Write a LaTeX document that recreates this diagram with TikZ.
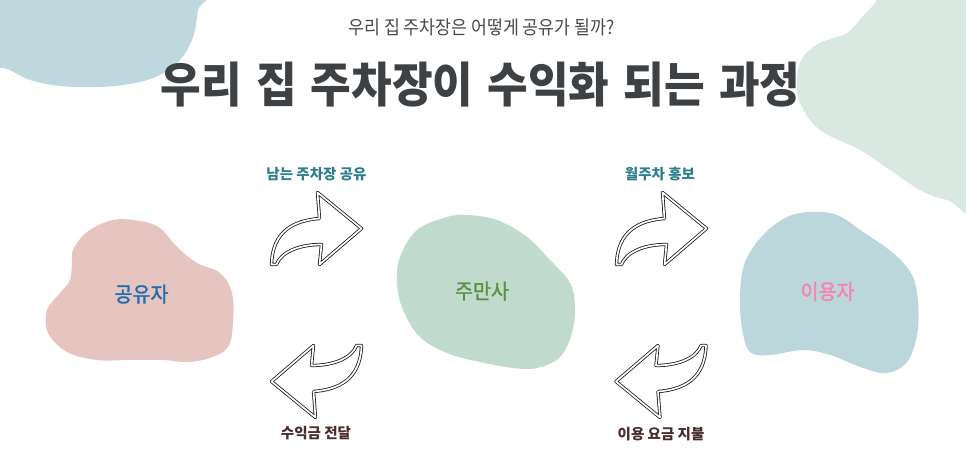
\documentclass[tikz,border=0pt]{standalone}
\usepackage{fontspec}
\setmainfont{Noto Sans CJK KR}
\newfontfamily\krtitle[FakeStretch=0.92,WordSpace=1.4]{Noto Sans CJK KR}
\newfontfamily\krsub[FakeStretch=0.91]{Noto Sans CJK KR}
\newfontfamily\krnode[FakeStretch=0.93,FakeBold=1.5]{Noto Sans CJK KR}
\newfontfamily\krlab{Noto Sans CJK KR}
\definecolor{blobpink}{HTML}{E6C4BF}
\definecolor{blobgreen}{HTML}{C1DACE}
\definecolor{blobblue}{HTML}{BCD7DC}
\definecolor{cornerblue}{HTML}{BED8DD}
\definecolor{cornergreen}{HTML}{DAE8E2}
\definecolor{titlegray}{HTML}{3D4144}
\definecolor{subgray}{HTML}{4A4A4A}
\definecolor{ownerblue}{HTML}{1F6FAD}
\definecolor{jugreen}{HTML}{5B9140}
\definecolor{userpink}{HTML}{F585B0}
\definecolor{labteal}{HTML}{2B7E8C}
\definecolor{labbrown}{HTML}{4B2C2C}
\tikzset{
  arrowline/.style={draw=black!90, line width=0.8pt, double=white, double distance=1.7pt, line join=round},
  curvyarrow/.pic={
    \draw[arrowline] (45,0) -- (1,-36) -- (3,-10)
      .. controls (-22,-8) and (-44,2) .. (-45,36) -- (-40,36)
      .. controls (-36,25) and (-20,16) .. (5,16) -- (3,36) -- cycle;
  },
  blobtext/.style={font=\krnode\fontsize{21}{24}\selectfont},
  toplabel/.style={font=\krlab\bfseries\fontsize{14.5}{17}\selectfont, text=labteal},
  botlabel/.style={font=\krlab\bfseries\fontsize{14.5}{17}\selectfont, text=labbrown}
}
\begin{document}
\begin{tikzpicture}[x=1pt,y=-1pt]
\useasboundingbox (0,0) rectangle (966,460);
\fill[white] (0,0) rectangle (966,460);
\begin{scope}
\clip (0,0) rectangle (966,460);
% corner blobs
\fill[cornerblue] plot[smooth cycle, tension=0.6] coordinates {
  (-20,-20) (202,-20) (198,10) (193,37) (180,60) (160,75) (135,83) (100,87) (60,86) (30,80) (10,70) (-20,55)};
\fill[cornergreen] plot[smooth cycle, tension=0.6] coordinates {
  (892,-20) (875,3) (862,17) (847,33) (820,43) (803,57) (797,77) (800,103) (820,130) (860,150) (890,170) (920,190) (947,200) (990,205) (990,-20)};
\end{scope}
% main blobs
\fill[blobpink] plot[smooth cycle, tension=0.6] coordinates {
  (73,250) (87,232) (113,220) (140,221) (160,228) (177,247) (197,263) (220,273) (232,293) (233,323) (228,347) (210,358) (187,362) (163,360) (130,360) (97,360) (67,352) (48,333) (47,310) (60,293) (70,280) (72,262)};
\fill[blobgreen] plot[smooth cycle, tension=0.6] coordinates {
  (447,217) (467,215) (497,220) (527,237) (550,260) (570,283) (575,307) (572,333) (560,357) (537,368) (513,368) (480,362) (447,353) (420,337) (403,310) (397,283) (400,257) (417,230)};
\fill[blobblue] plot[smooth cycle, tension=0.6] coordinates {
  (810,212) (837,215) (863,232) (893,253) (912,275) (918,302) (917,335) (907,362) (887,373) (863,368) (830,355) (803,350) (770,355) (750,352) (742,328) (740,295) (745,262) (763,235) (787,217)};
% titles
\node[font=\krsub\fontsize{19}{22}\selectfont, text=subgray] (subtitle) at (481.5,27.5) {우리 집 주차장은 어떻게 공유가 될까?};
\node[font=\krtitle\bfseries\fontsize{48}{54}\selectfont, text=titlegray] (title) at (480.5,84.5) {우리 집 주차장이 수익화 되는 과정};
% blob names
\node[blobtext, text=ownerblue] (owner) at (141.5,294) {공유자};
\node[blobtext, text=jugreen] (jumansa) at (482,291) {주만사};
\node[blobtext, text=userpink] (user) at (827.5,291.5) {이용자};
% arrows
\pic (a1) at (316.5,228.5) {curvyarrow};
\pic (a2) at (661.5,228.5) {curvyarrow};
\pic[rotate=180] (a3) at (316.5,381.5) {curvyarrow};
\pic[rotate=180] (a4) at (661,381.5) {curvyarrow};
% labels
\node[toplabel] (l1) at (316.5,174.5) {남는 주차장 공유};
\node[toplabel] (l2) at (660,174.5) {월주차 홍보};
\node[botlabel] (l3) at (316,433.5) {수익금 전달};
\node[botlabel] (l4) at (661,434) {이용 요금 지불};
\end{tikzpicture}
\end{document}
